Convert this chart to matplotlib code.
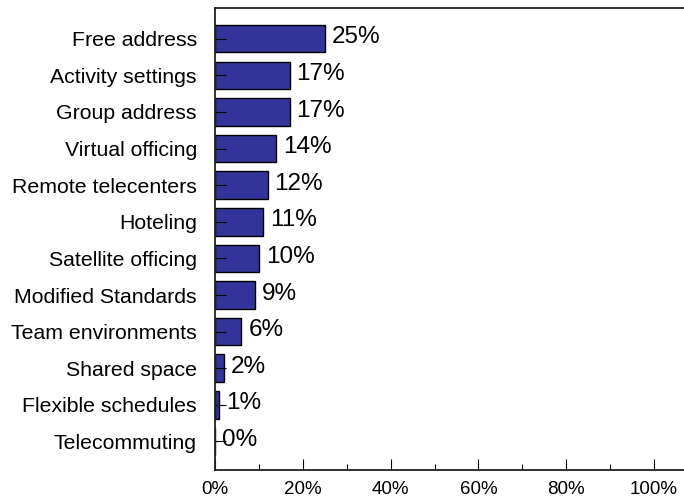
import matplotlib
matplotlib.use("Agg")
import matplotlib.pyplot as plt
from matplotlib.ticker import MultipleLocator, FuncFormatter

plt.rcParams['font.family'] = ['Liberation Sans', 'DejaVu Sans']

# survey shares per workplace strategy (percent)
strategies = [
    "Free address", "Activity settings", "Group address", "Virtual officing",
    "Remote telecenters", "Hoteling", "Satellite officing", "Modified Standards",
    "Team environments", "Shared space", "Flexible schedules", "Telecommuting",
]
shares = [25, 17, 17, 14, 12, 11, 10, 9, 6, 2, 1, 0]

W, H = 684, 497
fig = plt.figure(figsize=(W / 100, H / 100), dpi=100)
# axes: left spine at x=215, bottom at y=470, top at y=8, runs off the right edge
ax = fig.add_axes([215 / W, 27 / H, (W - 215) / W, 462 / H])

pos = list(range(len(strategies)))
ax.barh(pos, shares, height=0.75, color="#333399", edgecolor="black", linewidth=1)

for y, v in zip(pos, shares):
    ax.annotate(f"{v}%", xy=(v, y), xytext=(5, 1), textcoords="offset points",
                va="center", ha="left", fontsize=17.5, color="black")

ax.set_xlim(0, 100 * (W - 215) / 439)
ax.set_ylim(11.78, -0.84)

ax.set_yticks(pos)
ax.set_yticklabels(strategies, fontsize=15.3)
ax.tick_params(axis="y", direction="in", length=8, width=0.8, pad=13, color="black")

ax.xaxis.set_major_locator(MultipleLocator(20))
ax.xaxis.set_minor_locator(MultipleLocator(10))
ax.xaxis.set_major_formatter(FuncFormatter(lambda x, _: f"{x:.0f}%"))
ax.tick_params(axis="x", which="major", direction="in", length=8, width=0.8,
               labelsize=13.5, pad=8)
ax.tick_params(axis="x", which="minor", direction="in", length=4.3, width=0.8)

for side in ("left", "bottom", "top"):
    ax.spines[side].set_linewidth(1.3)
    ax.spines[side].set_color("#222222")
ax.spines["right"].set_visible(False)

fig.savefig("out.png", dpi=100)
